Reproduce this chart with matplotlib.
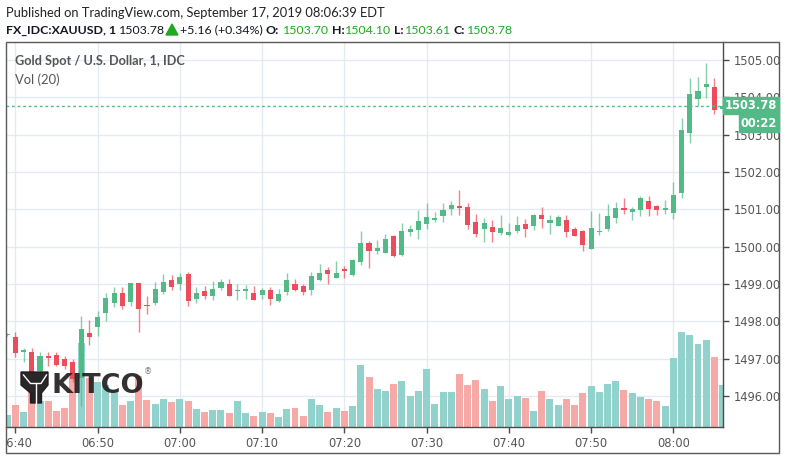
import matplotlib.pyplot as plt
from matplotlib.patches import Rectangle, Polygon
from matplotlib.transforms import blended_transform_factory, Bbox, TransformedBbox

# one-minute bars, 06:39 .. 08:06
opens = [1497.64, 1497.57, 1497.19, 1497.18, 1496.68, 1497.07, 1497.10, 1496.99, 1496.91, 1496.48,
         1497.68, 1497.86, 1498.23, 1498.50, 1498.77, 1498.51, 1499.02, 1498.44, 1498.50, 1498.79,
         1499.12, 1498.99, 1499.28, 1498.60, 1498.82, 1498.68, 1498.89, 1499.01, 1498.81, 1498.82,
         1498.76, 1498.70, 1498.84, 1498.54, 1498.79, 1499.00, 1498.95, 1498.84, 1499.11, 1499.37,
         1499.16, 1499.40, 1499.24, 1499.60, 1500.10, 1499.89, 1499.84, 1500.29, 1499.78, 1500.40,
         1500.45, 1500.61, 1500.71, 1500.82, 1501.01, 1501.09, 1501.06, 1500.66, 1500.47, 1500.53,
         1500.37, 1500.31, 1500.42, 1500.61, 1500.55, 1500.85, 1500.63, 1500.55, 1500.71, 1500.47,
         1500.42, 1499.94, 1500.40, 1500.47, 1500.77, 1501.04, 1500.93, 1500.98, 1501.22, 1501.09,
         1500.98, 1500.90, 1501.44, 1503.04, 1503.96, 1504.28, 1504.28, 1503.70]
highs = [1497.68, 1497.71, 1497.29, 1497.29, 1497.19, 1497.19, 1497.19, 1497.08, 1496.98, 1498.14,
         1498.04, 1498.28, 1498.77, 1498.91, 1498.93, 1499.02, 1499.02, 1498.68, 1499.05, 1499.28,
         1499.23, 1499.30, 1499.32, 1498.92, 1498.94, 1499.09, 1499.14, 1499.14, 1499.00, 1498.97,
         1498.95, 1498.90, 1498.91, 1498.86, 1499.29, 1499.13, 1499.00, 1499.32, 1499.54, 1499.45,
         1499.62, 1499.48, 1499.67, 1500.42, 1500.15, 1500.18, 1500.34, 1500.31, 1500.63, 1500.58,
         1500.98, 1501.17, 1500.93, 1501.17, 1501.22, 1501.52, 1501.17, 1500.87, 1500.77, 1500.71,
         1500.85, 1500.63, 1500.82, 1500.74, 1500.88, 1501.06, 1500.85, 1500.85, 1500.85, 1500.53,
         1500.45, 1500.95, 1500.90, 1501.14, 1501.20, 1501.30, 1501.06, 1501.36, 1501.36, 1501.12,
         1501.25, 1501.73, 1503.45, 1504.52, 1504.54, 1504.92, 1504.52, 1504.10]
lows = [1497.62, 1497.05, 1496.92, 1496.58, 1496.60, 1496.80, 1496.79, 1496.73, 1496.38, 1495.72,
        1497.36, 1497.60, 1498.01, 1498.38, 1498.32, 1498.40, 1497.72, 1498.20, 1498.44, 1498.73,
        1498.83, 1498.83, 1498.41, 1498.50, 1498.59, 1498.58, 1498.84, 1498.68, 1498.58, 1498.60,
        1498.57, 1498.60, 1498.44, 1498.53, 1498.71, 1498.81, 1498.71, 1498.71, 1499.08, 1499.00,
        1499.16, 1499.16, 1499.21, 1499.52, 1499.44, 1499.81, 1499.83, 1499.73, 1499.76, 1500.29,
        1500.20, 1500.47, 1500.66, 1500.66, 1500.85, 1500.85, 1500.47, 1500.26, 1500.12, 1500.12,
        1500.31, 1500.29, 1500.37, 1500.26, 1500.45, 1500.50, 1500.34, 1500.55, 1500.26, 1500.29,
        1499.88, 1499.94, 1500.31, 1500.42, 1500.63, 1500.88, 1500.71, 1500.82, 1500.82, 1500.85,
        1500.88, 1500.74, 1501.30, 1502.78, 1503.77, 1503.98, 1503.55, 1503.61]
closes = [1497.67, 1497.16, 1497.23, 1496.65, 1497.07, 1497.03, 1496.84, 1496.81, 1496.45, 1497.79,
          1497.58, 1498.12, 1498.63, 1498.77, 1498.40, 1499.02, 1498.32, 1498.40, 1498.87, 1499.04,
          1498.91, 1499.20, 1498.55, 1498.77, 1498.69, 1498.87, 1499.04, 1498.69, 1498.83, 1498.87,
          1498.57, 1498.84, 1498.60, 1498.73, 1499.11, 1498.84, 1498.79, 1499.21, 1499.29, 1499.27,
          1499.29, 1499.35, 1499.64, 1500.10, 1499.89, 1499.96, 1500.20, 1499.76, 1500.42, 1500.47,
          1500.69, 1500.79, 1500.77, 1500.98, 1501.12, 1501.04, 1500.58, 1500.34, 1500.63, 1500.39,
          1500.50, 1500.39, 1500.58, 1500.47, 1500.85, 1500.74, 1500.71, 1500.79, 1500.39, 1500.29,
          1500.04, 1500.50, 1500.42, 1500.82, 1501.04, 1500.98, 1501.01, 1501.30, 1501.01, 1500.98,
          1501.04, 1501.38, 1503.13, 1504.09, 1504.17, 1504.36, 1503.66, 1503.78]
volumes = [12, 22, 15, 35, 26, 26, 16, 19, 50, 84,
           49, 45, 42, 37, 22, 26, 51, 27, 23, 28,
           25, 28, 26, 18, 15, 17, 17, 14, 26, 14,
           11, 15, 14, 10, 18, 19, 11, 28, 22, 15,
           19, 16, 21, 62, 50, 38, 36, 43, 46, 31,
           36, 58, 23, 35, 35, 53, 42, 47, 38, 26,
           41, 28, 31, 29, 16, 36, 28, 22, 28, 22,
           34, 41, 35, 43, 46, 37, 34, 30, 28, 26,
           21, 69, 95, 92, 83, 87, 70, 42]

tick_pos = [1, 11, 21, 31, 41, 51, 61, 71, 81]
tick_labels = ["06:40", "06:50", "07:00", "07:10", "07:20", "07:30", "07:40", "07:50", "08:00"]
price_ticks = [1496, 1497, 1498, 1499, 1500, 1501, 1502, 1503, 1504, 1505]
last_price = 1503.78

UP, DOWN = "#53b987", "#eb4d5c"
VOL_UP, VOL_DOWN = "#92d2cc", "#f7a9a7"
GRID = "#e3ebf0"
AXIS = "#4a4a4a"
TXT = "#555555"
HDR_GREEN = "#22a722"

W, H = 786, 461
fig = plt.figure(figsize=(W / 100, H / 100), dpi=100)


def rect(x0, y0, x1, y1):
    return [x0 / W, 1 - y1 / H, (x1 - x0) / W, (y1 - y0) / H]


ax = fig.add_axes(rect(6, 42, 723, 427))
ax_vol = fig.add_axes(rect(6, 42, 723, 427))
ax_vol.set_axis_off()
ax_vol.set_ylim(0, 385)

idx = list(range(len(opens)))
up = [c >= o for o, c in zip(opens, closes)]

# volume, x from the price axes, height from the hidden volume axes
vol_trans = blended_transform_factory(ax.transData, ax_vol.transData)
ax.bar(idx, volumes, width=0.85, color=[VOL_UP if u else VOL_DOWN for u in up],
       transform=vol_trans, zorder=1)

# candles
ax.vlines(idx, lows, highs, colors=[UP if u else DOWN for u in up], lw=1, alpha=0.7, zorder=2)
body_lo = [min(o, c) for o, c in zip(opens, closes)]
body_h = [max(abs(c - o), 0.03) for o, c in zip(opens, closes)]
ax.bar(idx, body_h, bottom=body_lo, width=0.62, color=[UP if u else DOWN for u in up], zorder=3)

ax.axhline(last_price, color=UP, lw=1, ls=(0, (2, 2)), zorder=4)

ax.set_xlim(-0.14, 87.04)
ax.set_ylim(1495.169, 1505.482)
ax.set_xticks(tick_pos)
ax.set_xticklabels(tick_labels)
ax.set_yticks(price_ticks)
ax.set_yticklabels([f"{p:.2f}" for p in price_ticks])
ax.yaxis.tick_right()
ax.grid(color=GRID, lw=1, zorder=0)
ax.set_axisbelow(True)
ax.tick_params(axis="both", length=4, width=1, color=AXIS, labelcolor=TXT, labelsize=8.3)
ax.tick_params(axis="x", pad=3)
ax.tick_params(axis="y", pad=4)
for s in ["top", "left"]:
    ax.spines[s].set_visible(False)
for s in ["right", "bottom"]:
    ax.spines[s].set_color(AXIS)
    ax.spines[s].set_linewidth(1)

# overlay in pixel coordinates for header, box, labels and watermark
ov = fig.add_axes([0, 0, 1, 1], zorder=10)
ov.set_xlim(0, W)
ov.set_ylim(H, 0)
ov.axis("off")

clip = TransformedBbox(Bbox([[6, 0], [779, H]]), ov.transData)
fig.canvas.draw()
for lbl in ax.get_xticklabels():
    lbl.set_clip_box(clip)
    lbl.set_clip_on(True)

ov.add_patch(Rectangle((6, 42), 773, 411, fill=False, ec="#5a5a5a", lw=1))

font = "Lato"
ov.text(6, 13, "Published on TradingView.com, September 17, 2019 08:06:39 EDT",
        fontsize=9.25, family=font, color="#222222", va="center")
line2 = [(6, "FX_IDC:XAUUSD, 1", "bold", "#131722"),
         (119, "1503.78", "normal", "#131722"),
         (180, "+5.16 (+0.34%)", "normal", "#131722"),
         (265, "O:", "bold", "#131722"),
         (283, "1503.70", "normal", HDR_GREEN),
         (332, "H:", "bold", "#131722"),
         (345, "1504.10", "normal", HDR_GREEN),
         (394, "L:", "bold", "#131722"),
         (405, "1503.61", "normal", HDR_GREEN),
         (454, "C:", "bold", "#131722"),
         (467, "1503.78", "normal", HDR_GREEN)]
for x, s, w, c in line2:
    ov.text(x, 30, s, fontsize=8.9, family=font, fontweight=w, color=c, va="center")
ov.add_patch(Polygon([(166, 35), (178, 35), (172, 24)], closed=True, color=HDR_GREEN))

ov.text(15, 61, "Gold Spot / U.S. Dollar, 1, IDC", fontsize=9.2, family=font,
        fontweight="bold", color=TXT, va="center")
ov.text(15, 80, "Vol (20)", fontsize=9.4, family=font, color=TXT, va="center")

# last price and countdown labels
ov.add_patch(Rectangle((723, 97), 56, 17, color=UP))
ov.text(751, 105.5, "1503.78", fontsize=8.3, fontweight="bold", color="white",
        ha="center", va="center")
ov.add_patch(Rectangle((739, 115), 40, 16.5, color=UP))
ov.text(759, 123.5, "00:22", fontsize=8.3, fontweight="bold", color="white",
        ha="center", va="center")

# KITCO watermark
ov.add_patch(Polygon([(21, 372), (48, 372), (48, 385), (41.5, 393), (41.5, 403),
                      (30.5, 403), (30.5, 393), (21, 385)], closed=True,
                     color="#1e1b1c", alpha=0.95))
ov.plot([23.5, 30.5, 41, 46.5], [375, 383.5, 383.5, 375], color="white", lw=1)
ov.plot([36, 36], [383.5, 403], color="white", lw=1)
ov.text(52, 392.5, "KITCO", fontsize=19.5, fontweight="bold", family="DejaVu Sans",
        color="#231f20", alpha=0.92, va="baseline")
ov.text(144, 372, "\u00ae", fontsize=6, color="#777777", va="center")

fig.savefig("out.png", dpi=100)
